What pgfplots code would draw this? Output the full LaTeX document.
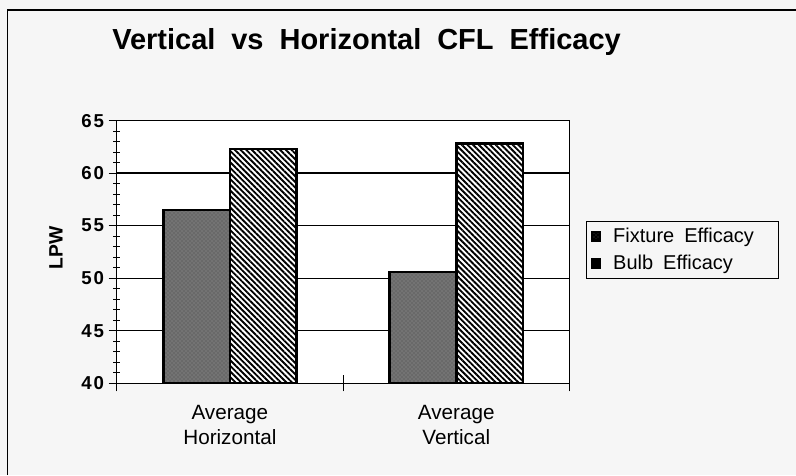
\documentclass[border=0pt]{standalone}
\usepackage{fontspec}
\setmainfont{Liberation Sans}
\newfontfamily\tickfont[LetterSpace=10]{Liberation Sans}
\usepackage{pgfplots}
\pgfplotsset{compat=1.18}
\usetikzlibrary{patterns,patterns.meta}
\definecolor{bg}{RGB}{246,246,246}
\definecolor{fixgray}{RGB}{115,115,115}
\begin{document}
\begin{tikzpicture}[x=0.75pt,y=0.75pt]
\fill[bg] (0,0) rectangle (796,475);
\useasboundingbox (0,0) rectangle (796,475);
\draw[line width=1.1pt] (7.3,0) -- (7.3,465) -- (796,465);
\node[anchor=base west, inner sep=0, font=\fontsize{21.75}{26}\selectfont\bfseries] at (112,425) {Vertical\hspace{0.55em}vs\hspace{0.55em}Horizontal\hspace{0.55em}CFL\hspace{0.55em}Efficacy};
\begin{axis}[
  at={(87.5pt,68.8pt)}, anchor=south west,
  width=339.6pt, height=197pt, scale only axis,
  xmin=-0.5, xmax=1.5, ymin=40, ymax=65,
  ybar=0pt, bar width=50pt,
  axis background/.style={fill=white},
  axis line style={line width=1pt, black},
  xtick={-0.5,0.5,1.5}, xticklabels={,,},
  extra x ticks={0,1},
  extra x tick labels={Average\\Horizontal,Average\\Vertical},
  extra x tick style={major tick length=0pt, grid=none,
    ticklabel style={align=center, yshift=-13pt, font=\fontsize{15.5}{18.75}\selectfont}},
  ytick={40,45,...,65}, minor y tick num=4,
  ymajorgrids, grid style={line width=1pt, black},
  tick align=center, major tick length=12pt, minor tick length=5pt,
  tick style={line width=0.8pt, black},
  xtick pos=bottom, ytick pos=left,
  yticklabel style={font=\fontsize{14}{16}\selectfont\bfseries\tickfont},
  /pgf/number format/assume math mode=true,
  ylabel={LPW},
  ylabel style={font=\fontsize{14.5}{16}\selectfont\bfseries, at={(axis description cs:-0.134,0.515)}, anchor=center},
  legend style={at={(axis description cs:1.0365,0.618)}, anchor=north west,
    draw=black, line width=0.8pt, fill=bg, font=\fontsize{15}{18}\selectfont,
    inner xsep=3pt, inner ysep=3pt, row sep=4pt},
  legend cell align=left,
]
\addplot[draw=black, line width=2pt, fill=fixgray,
  postaction={pattern=crosshatch dots, pattern color=black!70},
  legend image code/.code={\fill[black] (0pt,-3.3pt) rectangle (6pt,3.3pt);}]
  coordinates {(0,56.5) (1,50.6)};
\addlegendentry{\makebox[126pt][l]{\hspace{7pt}Fixture\hspace{0.5em}Efficacy}}
\addplot[draw=black, line width=2pt, fill=white,
  postaction={pattern={Lines[angle=-45,distance=3pt,line width=1.4pt]}},
  legend image code/.code={\fill[black] (0pt,-3.3pt) rectangle (6pt,3.3pt);}]
  coordinates {(0,62.3) (1,62.8)};
\addlegendentry{\makebox[126pt][l]{\hspace{7pt}Bulb\hspace{0.5em}Efficacy}}
\end{axis}
\end{tikzpicture}
\end{document}
